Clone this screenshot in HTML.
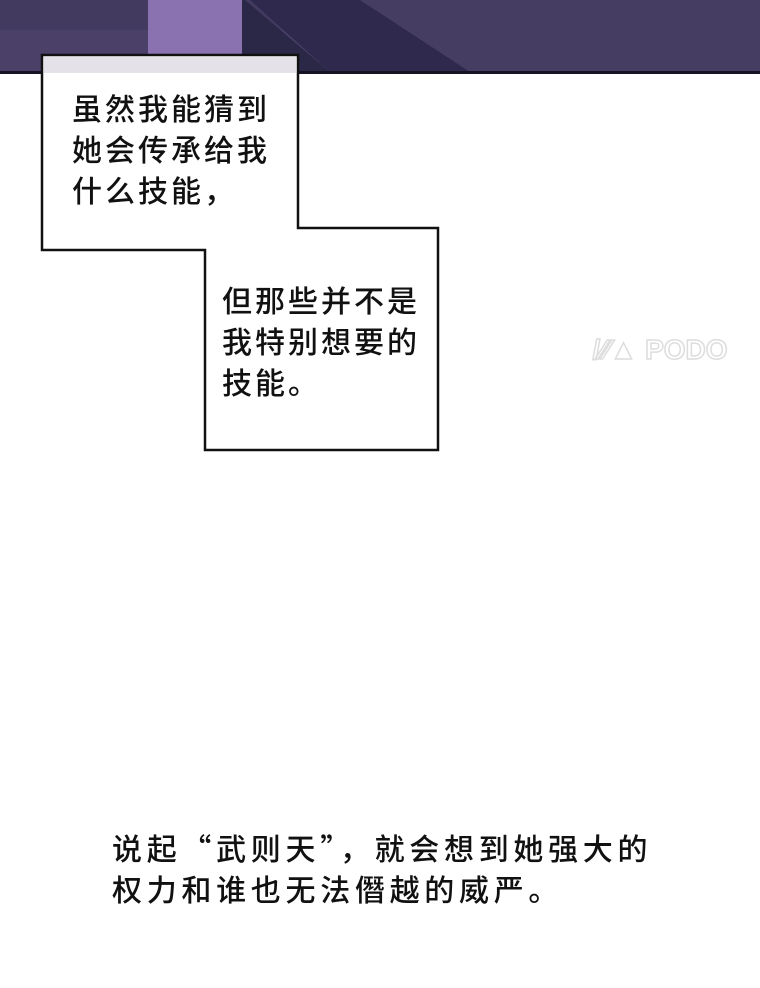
<!DOCTYPE html>
<html><head><meta charset="utf-8"><style>
body{margin:0;width:760px;height:988px;background:#fff;position:relative;overflow:hidden;font-family:"Noto Sans CJK SC",sans-serif;}
.t{position:absolute;font-size:30px;line-height:41px;color:#111;white-space:nowrap;letter-spacing:3px;font-weight:500}
</style></head><body>
<svg width="760" height="988" style="position:absolute;left:0;top:0">
<rect x="0" y="0" width="760" height="72" fill="#4a4068"/>
<rect x="0" y="0" width="760" height="30" fill="#433a60"/>
<path d="M360,0 L420,72 L760,72 L760,0Z" fill="#463d63"/>
<path d="M130,72 L200,0 L245,0 L330,72Z" fill="#2b2746"/>
<rect x="148" y="0" width="94" height="72" fill="#8a72b0"/>
<path d="M360,0 L470,72 L330,72 L250,0Z" fill="#2f2a4d"/>
<rect x="0" y="71" width="760" height="3" fill="#161325"/>
<polygon points="42,55 298,55 298,228 438,228 438,450 205,450 205,250 42,250" fill="#fff" stroke="#111" stroke-width="2.5"/>
<rect x="44" y="57" width="252" height="16" fill="#e4e2e8"/>
<text x="660" y="359" font-family="Liberation Sans" font-weight="bold" font-size="28" fill="none" stroke="#ddd" stroke-width="1.5" text-anchor="middle">/⁄⁄▲ PODO</text>
</svg>
<div class="t" style="left:72px;top:87px">虽然我能猜到<br>她会传承给我<br>什么技能，</div>
<div class="t" style="left:222px;top:279px">但那些并不是<br>我特别想要的<br>技能。</div>
<div class="t" style="left:112px;top:827px;letter-spacing:4.7px">说起“武则天”，就会想到她强大的<br>权力和谁也无法僭越的威严。</div>
</body></html>
